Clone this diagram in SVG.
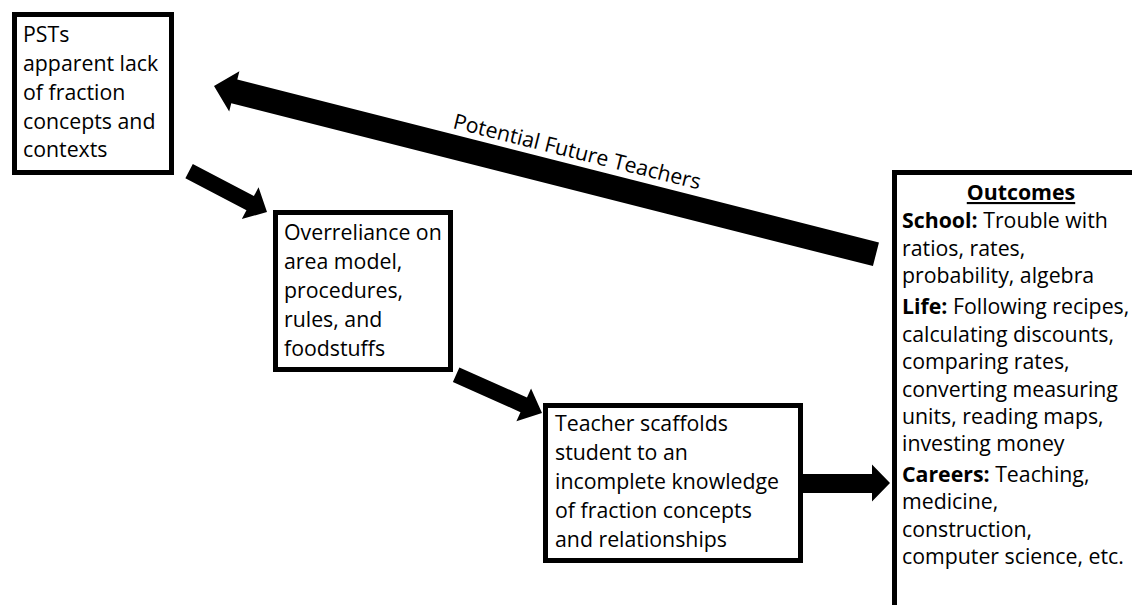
<svg xmlns="http://www.w3.org/2000/svg" width="1132" height="605" viewBox="0 0 1132 605">
  <style>
    .box { fill: #ffffff; stroke: #000000; stroke-width: 5; }
    .txt { font-family: "Open Sans", "Liberation Sans", sans-serif; font-size: 21.3px; fill: #000000; }
    .b { font-weight: bold; }
    .arrow { fill: #000000; }
  </style>
  <rect width="1132" height="605" fill="#ffffff"/>

  <!-- connectors: block arrows, each drawn pointing along +x with its tip at the origin -->
  <g id="connectors">
    <g id="arrow-feedback" transform="translate(214,86) rotate(194.24)">
      <polygon class="arrow" points="0,0 -21,-21 -21,-12.5 -683,-12.5 -683,12 -21,12 -21,20.5"/>
    </g>
    <text class="txt" transform="translate(452,128) rotate(14)">Potential Future Teachers</text>
    <g id="arrow-pst-overreliance" transform="translate(267,212) rotate(27.7)">
      <polygon class="arrow" points="0,0 -19,-18 -19,-8 -88,-8 -88,8 -19,8 -19,18"/>
    </g>
    <g id="arrow-overreliance-teacher" transform="translate(542,413) rotate(24)">
      <polygon class="arrow" points="0,0 -20,-18 -20,-8 -94,-8 -94,8 -20,8 -20,18"/>
    </g>
    <g id="arrow-teacher-outcomes" transform="translate(890,483)">
      <polygon class="arrow" points="0,0 -18,-18.5 -18,-9 -87,-9 -87,10 -18,10 -18,18.5"/>
    </g>
  </g>

  <g id="node-psts">
    <rect class="box" x="14.5" y="14.5" width="157" height="158"/>
    <text class="txt">
      <tspan x="23" y="42">PSTs</tspan>
      <tspan x="23" y="71">apparent lack</tspan>
      <tspan x="23" y="100">of fraction</tspan>
      <tspan x="23" y="128.5">concepts and</tspan>
      <tspan x="23" y="157">contexts</tspan>
    </text>
  </g>

  <g id="node-overreliance">
    <rect class="box" x="275.5" y="212.5" width="175" height="157"/>
    <text class="txt">
      <tspan x="284" y="240">Overreliance on</tspan>
      <tspan x="284" y="269">area model,</tspan>
      <tspan x="284" y="298">procedures,</tspan>
      <tspan x="284" y="327">rules, and</tspan>
      <tspan x="284" y="356">foodstuffs</tspan>
    </text>
  </g>

  <g id="node-teacher">
    <rect class="box" x="545.5" y="405.5" width="255" height="155"/>
    <text class="txt">
      <tspan x="555" y="431">Teacher scaffolds</tspan>
      <tspan x="555" y="460">student to an</tspan>
      <tspan x="555" y="489">incomplete knowledge</tspan>
      <tspan x="555" y="518">of fraction concepts</tspan>
      <tspan x="555" y="547">and relationships</tspan>
    </text>
  </g>

  <g id="node-outcomes">
    <rect class="box" x="894.5" y="172.5" width="300" height="500"/>
    <text class="txt b" x="1021" y="200" text-anchor="middle" text-decoration="underline">Outcomes</text>
    <text class="txt">
      <tspan x="902" y="228"><tspan class="b">School:</tspan> Trouble with</tspan>
      <tspan x="902" y="255.5">ratios, rates,</tspan>
      <tspan x="902" y="283">probability, algebra</tspan>
      <tspan x="902" y="314"><tspan class="b">Life:</tspan> Following recipes,</tspan>
      <tspan x="902" y="341.5">calculating discounts,</tspan>
      <tspan x="902" y="368.5">comparing rates,</tspan>
      <tspan x="902" y="396.5">converting measuring</tspan>
      <tspan x="902" y="424">units, reading maps,</tspan>
      <tspan x="902" y="451">investing money</tspan>
      <tspan x="902" y="482"><tspan class="b">Careers:</tspan> Teaching,</tspan>
      <tspan x="902" y="509">medicine,</tspan>
      <tspan x="902" y="536.5">construction,</tspan>
      <tspan x="902" y="563.5">computer science, etc.</tspan>
    </text>
  </g>
</svg>
